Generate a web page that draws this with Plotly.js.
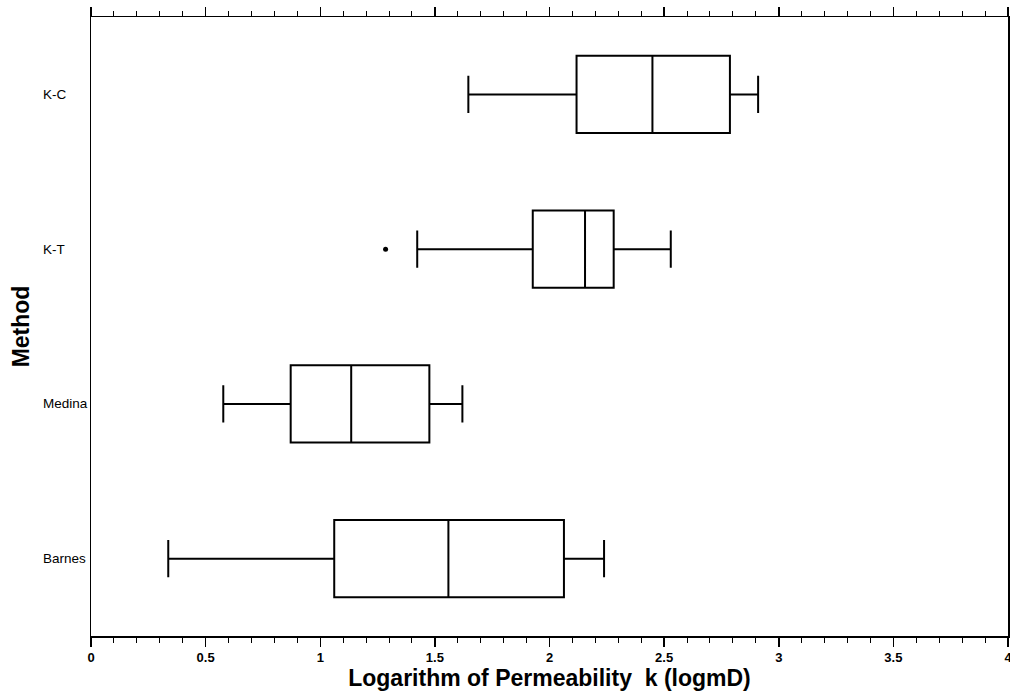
<!DOCTYPE html>
<html>
<head>
<meta charset="utf-8">
<script src="https://cdn.plot.ly/plotly-3.0.1.min.js"></script>
<style>
  html, body { margin: 0; padding: 0; background: #fff; }
  #chart { width: 1010px; height: 693px; }
</style>
</head>
<body>
<div id="chart"></div>
<script>
// Box-plot summaries of log permeability per estimation method
const methods     = ['Barnes', 'Medina', 'K-T', 'K-C'];
const lowerFence  = [0.337, 0.577, 1.423, 1.646];
const q1Values    = [1.061, 0.871, 1.927, 2.118];
const medianVals  = [1.559, 1.135, 2.155, 2.449];
const q3Values    = [2.063, 1.476, 2.280, 2.787];
const upperFence  = [2.238, 1.620, 2.529, 2.910];

// Points lying beyond the whiskers
const outlierMethod = ['K-T'];
const outlierValue  = [1.285];

const FONT = 'Arial, "Liberation Sans", Helvetica, sans-serif';

const boxes = {
  type: 'box',
  orientation: 'h',
  y: methods,
  q1: q1Values,
  median: medianVals,
  q3: q3Values,
  lowerfence: lowerFence,
  upperfence: upperFence,
  boxpoints: false,
  width: 0.5,
  whiskerwidth: 0.48,
  fillcolor: 'rgba(255,255,255,0)',
  line: { color: '#000', width: 2 },
  hoverinfo: 'x',
  showlegend: false
};

const outliers = {
  type: 'scatter',
  mode: 'markers',
  x: outlierValue,
  y: outlierMethod,
  marker: { color: '#000', size: 5 },
  showlegend: false
};

// Method names sit left-aligned in the left margin
const nameLabels = methods.map(m => ({
  x: -0.0545, xref: 'paper', xanchor: 'left',
  y: m, yref: 'y', yanchor: 'middle',
  text: m, showarrow: false,
  font: { family: FONT, size: 13.5, color: '#000' }
}));

const layout = {
  width: 1010,
  height: 693,
  margin: { l: 91, r: 2, t: 17, b: 57, pad: 0 },
  paper_bgcolor: '#fff',
  plot_bgcolor: '#fff',
  font: { family: FONT, color: '#000' },
  xaxis: {
    range: [0, 4],
    tick0: 0,
    dtick: 0.5,
    ticks: 'outside',
    ticklen: 9,
    tickwidth: 1.5,
    tickcolor: '#000',
    ticklabeloverflow: 'allow',
    minor: { dtick: 0.1, ticks: 'outside', ticklen: 5, tickwidth: 1, tickcolor: '#000' },
    showline: true,
    linecolor: '#000',
    linewidth: 1.5,
    mirror: 'allticks',
    showgrid: false,
    zeroline: false,
    tickfont: { family: FONT, size: 13, color: '#000', weight: 'bold' },
    title: {
      text: 'Logarithm of Permeability  k (logmD)',
      font: { family: FONT, size: 23, color: '#000', weight: 'bold' },
      standoff: 2
    }
  },
  yaxis: {
    type: 'category',
    categoryorder: 'array',
    categoryarray: methods,
    range: [-0.5, 3.5],
    showticklabels: false,
    ticks: '',
    showline: true,
    linecolor: '#000',
    linewidth: 1.5,
    mirror: true,
    showgrid: false,
    zeroline: false
  },
  annotations: nameLabels.concat([{
    x: -0.0765, xref: 'paper', xanchor: 'center',
    y: 0.5, yref: 'paper', yanchor: 'middle',
    text: 'Method', textangle: -90, showarrow: false,
    font: { family: FONT, size: 23, color: '#000', weight: 'bold' }
  }])
};

Plotly.newPlot('chart', [boxes, outliers], layout, { displayModeBar: false, staticPlot: true });
</script>
</body>
</html>
